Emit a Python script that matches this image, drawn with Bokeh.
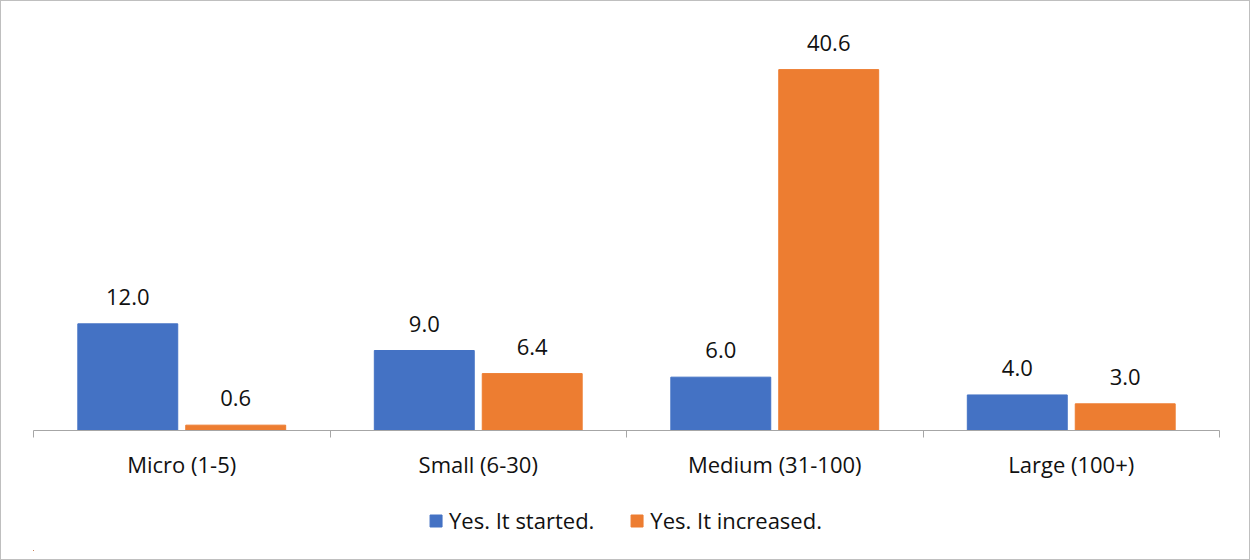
from bokeh.plotting import figure
from bokeh.layouts import column
from bokeh.models import (ColumnDataSource, FixedTicker, Range1d, Legend, LegendItem,
                          LinearAxis)
from bokeh.core.properties import value
from bokeh.embed import file_html
from bokeh.resources import INLINE

# Firm size categories and the share answering each option
categories = ["Micro (1-5)", "Small (6-30)", "Medium (31-100)", "Large (100+)"]
started = [12.0, 9.0, 6.0, 4.0]
increased = [0.6, 6.4, 40.6, 3.0]
series_names = ["Yes. It started.", "Yes. It increased."]

BLUE = "#4472C4"
ORANGE = "#ED7D31"
FONT = "Open Sans"
FSIZE = "22px"
INK = "#111111"
GRID = "#a6a6a6"

centers = [i + 0.5 for i in range(len(categories))]
bar_w = 0.337
shift = 0.182

src = ColumnDataSource(dict(
    x_a=[c - shift for c in centers],
    x_b=[c + shift for c in centers],
    started=started,
    increased=increased,
    lab_a=[f"{v:.1f}" for v in started],
    lab_b=[f"{v:.1f}" for v in increased],
))

p = figure(frame_width=1186, frame_height=400, output_backend="svg", toolbar_location=None,
           x_range=Range1d(0, len(categories)), y_range=Range1d(0, 45),
           min_border_left=32, min_border_right=30, min_border_top=29,
           min_border_bottom=60, x_axis_location=None, y_axis_location=None)
p.outline_line_color = None
p.grid.visible = False
p.background_fill_color = "white"
p.border_fill_color = "white"

p.vbar(x="x_a", top="started", width=bar_w, source=src, color=BLUE)
p.vbar(x="x_b", top="increased", width=bar_w, source=src, color=ORANGE)

for xcol, ycol, lcol in (("x_a", "started", "lab_a"), ("x_b", "increased", "lab_b")):
    p.text(x=xcol, y=ycol, text=lcol, source=src, text_align="center",
           text_baseline="middle", y_offset=-27, text_font=value(FONT),
           text_font_size=FSIZE, text_color=INK)

# Category axis: labels at category centres, tick marks at category boundaries
xaxis = LinearAxis(ticker=FixedTicker(ticks=centers,
                                      minor_ticks=list(range(len(categories) + 1))))
xaxis.major_label_overrides = {c: name for c, name in zip(centers, categories)}
xaxis.major_tick_line_color = None
xaxis.major_tick_out = 0
xaxis.major_tick_in = 0
xaxis.minor_tick_out = 7
xaxis.minor_tick_in = 0
xaxis.minor_tick_line_color = GRID
xaxis.axis_line_color = GRID
xaxis.major_label_standoff = 11
xaxis.major_label_text_font = FONT
xaxis.major_label_text_font_size = FSIZE
xaxis.major_label_text_color = INK
p.add_layout(xaxis, "below")

# Legend strip under the chart; its series renderers sit outside the visible range,
# so only the legend swatches show
leg = figure(frame_width=1248, frame_height=60, output_backend="svg",
             toolbar_location=None, x_range=Range1d(100, 101), y_range=Range1d(100, 101),
             min_border_left=0, min_border_right=0, min_border_top=0,
             min_border_bottom=9, x_axis_location=None, y_axis_location=None)
leg.outline_line_color = None
leg.grid.visible = False
leg.border_fill_color = "white"
sw_a = leg.vbar(x="x_a", top="started", width=bar_w, source=src, color=BLUE)
sw_b = leg.vbar(x="x_b", top="increased", width=bar_w, source=src, color=ORANGE)

legend = Legend(items=[LegendItem(label=series_names[0], renderers=[sw_a]),
                       LegendItem(label=series_names[1], renderers=[sw_b])],
                orientation="horizontal", location="center",
                label_text_font=FONT, label_text_font_size=FSIZE,
                label_text_color=INK, glyph_width=15, glyph_height=15,
                spacing=35, label_standoff=6, border_line_color=None,
                background_fill_alpha=0, padding=0, margin=0)
leg.add_layout(legend)

layout = column(p, leg, spacing=0)
layout.styles = {"border": "1px solid #bfbfbf"}

open("out.html", "w").write(file_html(layout, INLINE))
